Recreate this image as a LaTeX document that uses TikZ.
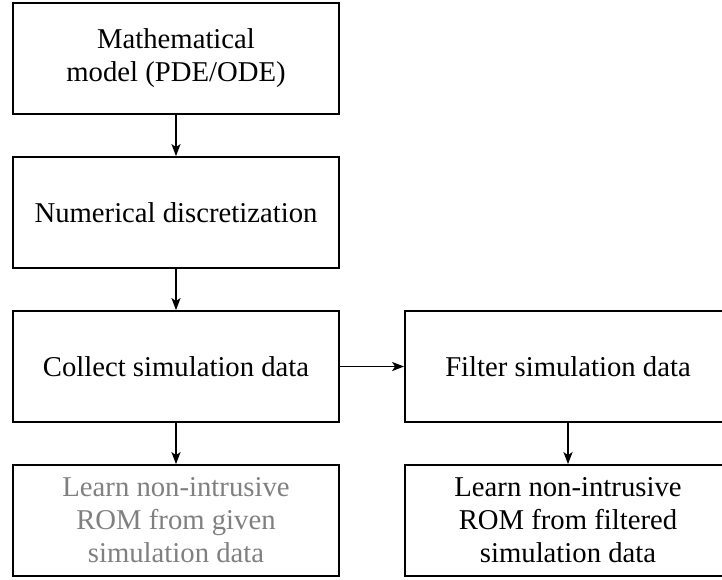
\documentclass[tikz,border=0pt]{standalone}
\usepackage{fontspec}
\setmainfont{Liberation Serif}
\usepackage{tikz}
\usetikzlibrary{shapes.geometric, arrows.meta}

\begin{document}
\begin{tikzpicture}[node distance=77pt, x=0.5pt, y=-0.5pt]
  \tikzstyle{process} = [rectangle, minimum width=163pt, minimum height=55.5pt, inner sep=1pt, align=center, font=\fontsize{14.35}{16.5}\selectfont, draw=black, line width=0.9pt]
  \tikzstyle{faded} = [text=black!50]
  \tikzstyle{arrow}=[draw, line width=0.9pt, -{Stealth[length=6pt, width=4.5pt, inset=1.5pt]}]

  \useasboundingbox (0,0) rectangle (722,579);

  \node (model) [process] at (176,58.5) {Mathematical\\model (PDE/ODE)};
  \node (discrete) [process, below of=model] {Numerical discretization};
  \node (collect) [process, below of=discrete] {Collect simulation data};
  \node (given) [process, faded, below of=collect] {Learn non-intrusive\\ROM from given\\simulation data};
  \node (filter) [process, right of=collect, node distance=196pt] {Filter simulation data};
  \node (filtered) [process, below of=filter] {Learn non-intrusive\\ROM from filtered\\simulation data};

  \draw [arrow] (model) -- (discrete);
  \draw [arrow] (discrete) -- (collect);
  \draw [arrow] (collect) -- (given);
  \draw [arrow] (collect) -- (filter);
  \draw [arrow] (filter) -- (filtered);

\end{tikzpicture}
\end{document}
